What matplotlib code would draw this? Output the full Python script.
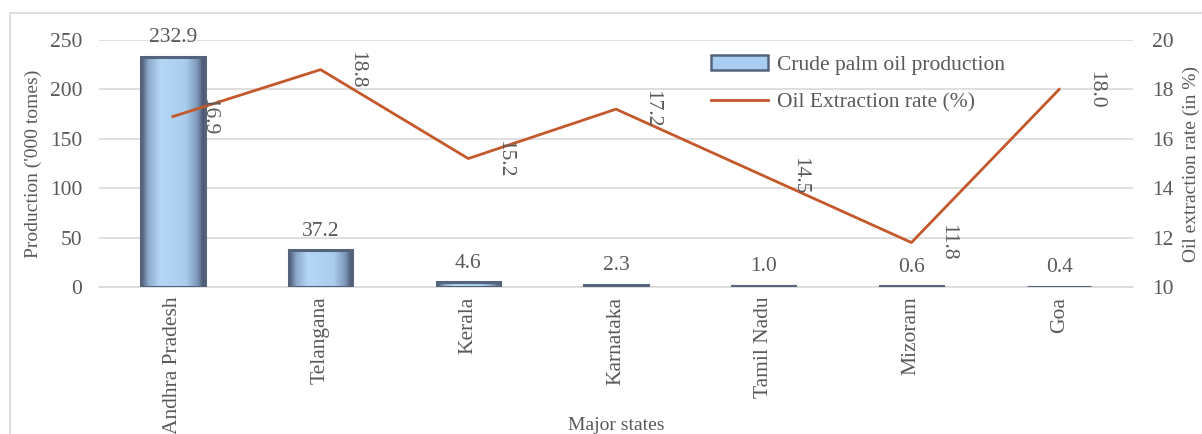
import matplotlib
matplotlib.use("Agg")
import matplotlib.pyplot as plt
from matplotlib.patches import Rectangle
from matplotlib.lines import Line2D
from matplotlib.colors import LinearSegmentedColormap
import numpy as np

states = ["Andhra Pradesh", "Telangana", "Kerala", "Karnataka",
          "Tamil Nadu", "Mizoram", "Goa"]
production = [232.9, 37.2, 4.6, 2.3, 1.0, 0.6, 0.4]
extraction_rate = [16.9, 18.8, 15.2, 17.2, 14.5, 11.8, 18.0]

plt.rcParams["font.family"] = ["Liberation Serif", "DejaVu Serif"]
TXT = "#595959"
GRID = "#d9d9d9"
LINE_C = "#c5582a"
EDGE = "#55647c"
FS = 15.5

# bevelled blue fill: dark rims, light centre
bevel = LinearSegmentedColormap.from_list(
    "bevel", [(0.0, "#4c5b73"), (0.12, "#8eabcd"), (0.3, "#b5d7f5"),
              (0.7, "#a9cdee"), (0.88, "#7d98ba"), (1.0, "#3e4a5e")])

fig = plt.figure(figsize=(12.02, 4.34), dpi=100)
fig.patches.append(Rectangle((10 / 1202, -0.1), 1.2, (434 - 13) / 434 + 0.1,
                             transform=fig.transFigure, fill=False,
                             edgecolor="#d9d9d9", linewidth=1.2, zorder=0))

ax = fig.add_axes([99 / 1202, 1 - 287 / 434, (1133 - 99) / 1202, (287 - 40) / 434])
x = np.arange(len(states))

bars = ax.bar(x, production, width=0.43, facecolor="none",
              edgecolor=EDGE, linewidth=2.2, zorder=3)
grad = np.linspace(0, 1, 256).reshape(1, -1)
for b in bars:
    bx, bw, bh = b.get_x(), b.get_width(), b.get_height()
    im = ax.imshow(grad, cmap=bevel, aspect="auto", interpolation="bilinear",
                   extent=(bx, bx + bw, 0, bh), zorder=2)
    im.set_clip_path(b)

ax.set_ylim(0, 250)
ax.set_xlim(-0.5, len(states) - 0.5)
ax.set_yticks(np.arange(0, 251, 50))
ax.yaxis.grid(True, color=GRID, linewidth=1.2)
ax.set_axisbelow(True)
for s in ["top", "right", "left"]:
    ax.spines[s].set_visible(False)
ax.spines["bottom"].set_color(GRID)
ax.spines["bottom"].set_linewidth(1.2)
ax.tick_params(axis="y", length=0, pad=12, labelsize=FS, labelcolor=TXT)
ax.tick_params(axis="x", length=0, pad=7, labelsize=FS, labelcolor=TXT)
ax.set_xticks(x)
ax.set_xticklabels(states, rotation=90, va="top")
ax.set_ylabel("Production ('000 tomes)", fontsize=14, color=TXT, labelpad=6)
ax.set_xlabel("Major states", fontsize=14, color=TXT)
ax.xaxis.set_label_coords(0.5, -0.525)

for xi, v in zip(x, production):
    ax.annotate(f"{v:.1f}", (xi, v), xytext=(0, 7), textcoords="offset points",
                ha="center", va="bottom", fontsize=FS, color=TXT)

ax2 = ax.twinx()
ax2.plot(x, extraction_rate, color=LINE_C, linewidth=2.0, zorder=3)
ax2.set_ylim(10, 20)
ax2.set_yticks(np.arange(10, 21, 2))
for s in ["top", "right", "left", "bottom"]:
    ax2.spines[s].set_visible(False)
ax2.tick_params(axis="y", length=0, pad=14, labelsize=FS, labelcolor=TXT)
ax2.set_ylabel("Oil extraction rate (in %)", fontsize=14, color=TXT, labelpad=6)

for xi, v in zip(x, extraction_rate):
    ax2.annotate(f"{v:.1f}", (xi, v), xytext=(26, 0), textcoords="offset points",
                 ha="center", va="center", rotation=-90, fontsize=FS, color=TXT)

handles = [Rectangle((0, 0), 1, 1, facecolor="#a9cdf1", edgecolor=EDGE, linewidth=1.8),
           Line2D([0], [0], color=LINE_C, linewidth=2.0)]
ax2.legend(handles, ["Crude palm oil production", "Oil Extraction rate (%)"],
           loc="upper left", bbox_to_anchor=(0.573, 1.017), frameon=False,
           fontsize=FS, labelcolor=TXT, handlelength=2.65, handletextpad=0.4,
           labelspacing=0.8)

fig.savefig("out.png", dpi=100)
